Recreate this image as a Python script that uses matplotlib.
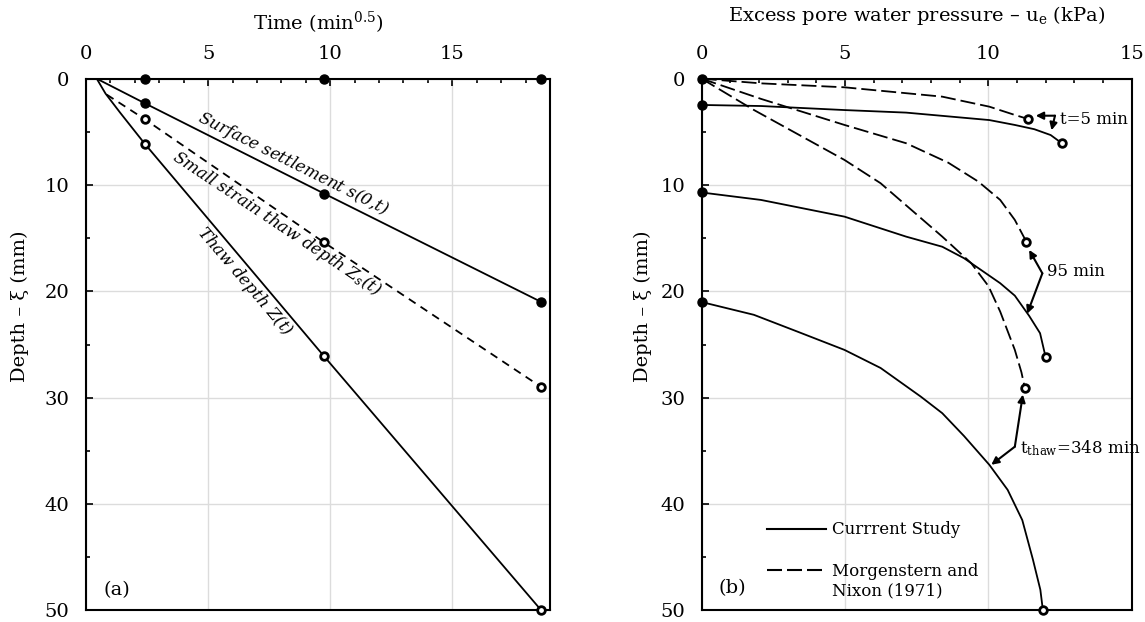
import numpy as np
import matplotlib.pyplot as plt
from matplotlib.ticker import MultipleLocator

plt.rcParams['font.family'] = 'DejaVu Serif'
plt.rcParams['mathtext.fontset'] = 'dejavuserif'
plt.rcParams['lines.scale_dashes'] = False

# (a) depth vs sqrt(time)
mark_t = [2.4, 9.75, 18.65]
surf_t = [0.44, 2.4, 9.75, 18.65]
surf_d = [0.0, 2.3, 10.8, 21.0]
small_t = [0.85, 2.4, 9.75, 18.65]
small_d = [1.5, 3.8, 15.4, 29.0]
thaw_t = [0.44, 0.8, 1.4, 2.4, 9.75, 18.65]
thaw_d = [0.0, 1.4, 3.2, 6.1, 26.1, 50.0]
small_mark = [3.8, 15.4, 29.0]
thaw_mark = [6.1, 26.1, 50.0]
surf_mark = [2.3, 10.8, 21.0]

# (b) excess pore pressure profiles (u in kPa, depth in mm)
cur5_u = [0, 2.07, 4.98, 7.13, 10.03, 10.92, 11.6, 12.17, 12.56]
cur5_d = [2.47, 2.57, 2.95, 3.19, 3.89, 4.35, 4.75, 5.3, 6.07]
mn5_u = [0, 2.07, 4.98, 8.39, 10.03, 10.92, 11.38]
mn5_d = [0, 0.44, 0.81, 1.69, 2.63, 3.41, 3.79]
cur95_u = [0, 2.07, 4.98, 7.13, 8.39, 9.15, 10.41, 10.92, 11.42, 11.8, 11.99]
cur95_d = [10.7, 11.4, 12.97, 14.85, 15.8, 16.88, 19.23, 20.4, 22.3, 23.93, 26.13]
mn95_u = [0, 2.07, 4.98, 7.13, 8.6, 9.65, 10.41, 10.92, 11.32]
mn95_d = [0, 1.9, 4.35, 6.07, 7.9, 9.68, 11.4, 13.28, 15.32]
cur348_u = [0, 1.82, 3.34, 4.98, 6.24, 7.64, 8.39, 9.15, 10.03, 10.67, 11.18, 11.55, 11.81, 11.9]
cur348_d = [21.0, 22.2, 23.78, 25.5, 27.2, 29.89, 31.45, 33.6, 36.3, 38.66, 41.5, 45.2, 48.05, 50.0]
mn348_u = [0, 1.82, 4.98, 6.24, 8.39, 9.4, 10.0, 10.41, 10.92, 11.15, 11.27]
mn348_d = [0, 2.94, 7.64, 9.83, 14.85, 17.35, 19.5, 21.9, 25.5, 27.6, 29.1]

FS = 14
short_dash = (5.8, 4.3)
long_dash = (10.8, 3.6)

fig = plt.figure(figsize=(11.45, 6.22), dpi=100)
ax1 = fig.add_axes([0.0751, 0.0185, 0.4052, 0.855])
ax2 = fig.add_axes([0.6128, 0.0185, 0.3757, 0.855])


def style(ax, xmax):
    ax.set_xlim(0, xmax)
    ax.set_ylim(50, 0)
    ax.xaxis.tick_top()
    ax.xaxis.set_major_locator(MultipleLocator(5))
    ax.xaxis.set_minor_locator(MultipleLocator(1))
    ax.yaxis.set_major_locator(MultipleLocator(10))
    ax.yaxis.set_minor_locator(MultipleLocator(5))
    ax.tick_params(which='both', direction='in', top=True, bottom=False,
                   left=True, right=False, width=1.2, labelsize=FS)
    ax.tick_params(which='major', length=5)
    ax.tick_params(which='minor', length=3.2)
    ax.tick_params(axis='x', pad=11)
    ax.tick_params(axis='y', pad=12)
    for s in ax.spines.values():
        s.set_linewidth(1.5)
    ax.grid(True, which='major', color='#dcdcdc', lw=1.0)
    ax.set_axisbelow(True)
    ax.set_ylabel('Depth – ξ (mm)', fontsize=FS)


style(ax1, 19)
style(ax2, 15)

# ---- panel (a)
ax1.plot(surf_t, surf_d, color='k', lw=1.3)
ax1.plot(small_t, small_d, color='k', lw=1.3, dashes=short_dash)
ax1.plot(thaw_t, thaw_d, color='k', lw=1.3)
ax1.plot(mark_t, [0, 0, 0], 'o', color='k', ms=6.5, clip_on=False, zorder=5)
ax1.plot(mark_t, surf_mark, 'o', color='k', ms=6.5, clip_on=False, zorder=5)
for d in (small_mark, thaw_mark):
    ax1.plot(mark_t, d, 'o', mfc='white', mec='k', ms=5.5, mew=2.0,
             clip_on=False, zorder=5)


def angle(ax, x, y, i):
    p = ax.transData.transform([(x[i], y[i]), (x[i + 1], y[i + 1])])
    return np.degrees(np.arctan2(p[1, 1] - p[0, 1], p[1, 0] - p[0, 0]))


ax1.text(8.5, 7.95, 'Surface settlement s(0,$t$)', style='italic', fontsize=12,
         rotation=angle(ax1, surf_t, surf_d, 2), rotation_mode='anchor',
         ha='center', va='center')
ax1.text(7.8, 13.6, 'Small strain thaw depth Z$_s$($t$)', style='italic', fontsize=12,
         rotation=angle(ax1, small_t, small_d, 2), rotation_mode='anchor',
         ha='center', va='center')
ax1.text(6.5, 19.1, 'Thaw depth Z($t$)', style='italic', fontsize=12,
         rotation=angle(ax1, thaw_t, thaw_d, 4), rotation_mode='anchor',
         ha='center', va='center')
ax1.text(1.28, 48.05, '(a)', fontsize=FS, ha='center', va='center')

ax1.set_xlabel('Time (min$^{0.5}$)', fontsize=FS)
ax1.xaxis.set_label_position('top')
ax1.xaxis.label.set_va('center')
ax1.xaxis.set_label_coords(0.5, 1.104)
ax1.yaxis.label.set_va('center')
ax1.yaxis.set_label_coords(-0.142, 0.572)

# ---- panel (b)
for u, d in ((cur5_u, cur5_d), (cur95_u, cur95_d), (cur348_u, cur348_d)):
    ax2.plot(u, d, color='k', lw=1.3)
    ax2.plot(u[0], d[0], 'o', color='k', ms=6.5, clip_on=False, zorder=5)
    ax2.plot(u[-1], d[-1], 'o', mfc='white', mec='k', ms=5.5, mew=2.0,
             clip_on=False, zorder=5)
for u, d in ((mn5_u, mn5_d), (mn95_u, mn95_d), (mn348_u, mn348_d)):
    ax2.plot(u, d, color='k', lw=1.3, dashes=long_dash)
    ax2.plot(u[-1], d[-1], 'o', mfc='white', mec='k', ms=5.5, mew=2.0,
             clip_on=False, zorder=5)
ax2.plot(0, 0, 'o', color='k', ms=6.5, clip_on=False, zorder=5)

arrow = dict(arrowstyle='-|>', color='k', lw=1.5, mutation_scale=11,
             shrinkA=0, shrinkB=0)
for elbow, tips, label, tpos in [
        ((12.32, 3.48), [(11.65, 3.48), (12.2, 4.85)], 't=5 min', (12.5, 3.85)),
        ((11.88, 18.3), [(11.42, 16.1), (11.35, 22.1)], '95 min', (12.05, 18.1)),
        ((10.92, 34.6), [(11.2, 29.7), (10.1, 36.3)], 't$_\\mathrm{thaw}$=348 min', (11.1, 34.7))]:
    for tip in tips:
        ax2.annotate('', xy=tip, xytext=elbow, arrowprops=arrow)
    ax2.text(tpos[0], tpos[1], label, fontsize=12, ha='left', va='center')

ax2.text(1.06, 47.9, '(b)', fontsize=FS, ha='center', va='center')

# legend drawn by hand so the dashed key sits on the first text line
ax2.plot([0.151, 0.29], [0.153, 0.153], color='k', lw=1.5, transform=ax2.transAxes)
ax2.plot([0.151, 0.29], [0.076, 0.076], color='k', lw=1.5, dashes=long_dash,
         transform=ax2.transAxes)
ax2.text(0.304, 0.153, 'Currrent Study', fontsize=12, va='center',
         transform=ax2.transAxes)
ax2.text(0.304, 0.055, 'Morgenstern and\nNixon (1971)', fontsize=12, va='center',
         linespacing=1.25, transform=ax2.transAxes)

ax2.set_xlabel('Excess pore water pressure – u$_\\mathrm{e}$ (kPa)', fontsize=FS)
ax2.xaxis.set_label_position('top')
ax2.xaxis.label.set_va('center')
ax2.xaxis.set_label_coords(0.5, 1.1195)
ax2.yaxis.label.set_va('center')
ax2.yaxis.set_label_coords(-0.1365, 0.572)

fig.savefig('out.png', dpi=100)
